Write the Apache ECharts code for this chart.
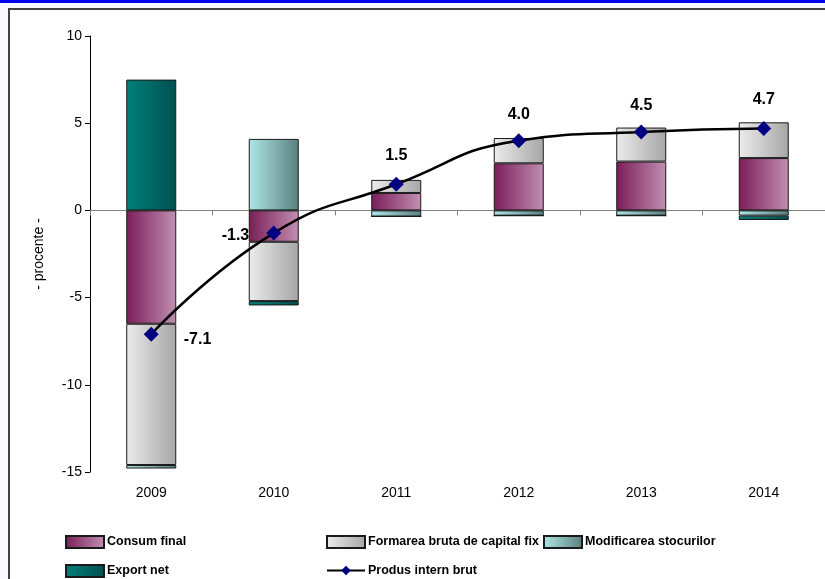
<!DOCTYPE html>
<html>
<head>
<meta charset="utf-8">
<script src="https://cdn.jsdelivr.net/npm/echarts@6/dist/echarts.min.js"></script>
<style>
  html, body { margin: 0; padding: 0; background: #fff; }
  #chart { width: 825px; height: 579px; }
</style>
</head>
<body>
<div id="chart"></div>
<script>
  // ani (categorii)
  var years = ['2009', '2010', '2011', '2012', '2013', '2014']
  // contributii la cresterea PIB (puncte procentuale)
  var consumFinal = [-6.5, -1.8, 1.0, 2.7, 2.8, 3.0]
  var formareaBruta = [-8.1, -3.4, 0.75, 1.45, 1.95, 2.05]
  var modifStocuri = [-0.2, 4.1, -0.35, -0.3, -0.3, -0.3]
  var exportNet = [7.5, -0.25, 0, 0, 0, -0.25]
  var pib = [-7.1, -1.3, 1.5, 4.0, 4.5, 4.7]

  var font = '"Liberation Sans", Arial, sans-serif'

  function grad(c1, c2) {
    return new echarts.graphic.LinearGradient(0, 0, 1, 0, [
      { offset: 0, color: c1 },
      { offset: 1, color: c2 }
    ])
  }

  // pozitii etichete PIB
  var labelPos = [
    { position: 'right', offset: [20, 5] },
    { position: 'left', offset: [-12, 3] },
    { position: 'top', offset: [0, -8] },
    { position: 'top', offset: [0, -6] },
    { position: 'top', offset: [0, -6] },
    { position: 'top', offset: [0, -8] }
  ]

  // o legenda pentru fiecare element, ca in original
  var legText = { fontFamily: font, fontWeight: 'bold', fontSize: 12.5, color: '#000', padding: [0, 0, 0, -2] }
  function leg(name, left, top, icon) {
    return {
      data: [{ name: name, icon: icon }], left: left, top: top,
      itemWidth: 38, itemHeight: 12, itemGap: 4,
      textStyle: legText
    }
  }

  var chart = echarts.init(document.getElementById('chart'))
  var option = {
    animation: false,
    textStyle: { fontFamily: font },
    graphic: [
      { type: 'rect', z: -10, shape: { x: 0, y: 0, width: 825, height: 579 }, style: { fill: '#f8f8ff' } },
      { type: 'rect', z: -9, shape: { x: 9, y: 9, width: 820, height: 575 }, style: { fill: '#fff', stroke: '#404040', lineWidth: 2 } },
      { type: 'rect', z: -8, shape: { x: 0, y: 0, width: 825, height: 3 }, style: { fill: '#0000f0' } }
    ],
    grid: { left: 90, top: 36, width: 738, height: 436 },
    legend: [
      leg('Consum final', 60, 530, 'rect'),
      leg('Formarea bruta de capital fix', 321, 530, 'rect'),
      leg('Modificarea stocurilor', 538, 530, 'rect'),
      leg('Export net', 60, 559, 'rect'),
      {
        data: ['Produs intern brut'], left: 321, top: 559,
        itemWidth: 38, itemHeight: 12, itemGap: 4,
        textStyle: legText
      }
    ],
    xAxis: [
      {
        type: 'category',
        data: years,
        axisLine: { onZero: true, lineStyle: { color: '#808080', width: 1 } },
        axisTick: { show: true, length: 5, lineStyle: { color: '#808080' } },
        axisLabel: { show: false }
      },
      {
        type: 'category',
        data: years,
        position: 'bottom',
        axisLine: { show: false },
        axisTick: { show: false },
        axisLabel: { color: '#000', fontSize: 14, margin: 14, fontFamily: font }
      }
    ],
    yAxis: {
      type: 'value',
      min: -15, max: 10, interval: 5,
      name: '- procente -',
      nameLocation: 'middle',
      nameGap: 44,
      nameTextStyle: { color: '#000', fontSize: 14, fontFamily: font },
      axisLine: { show: true, lineStyle: { color: '#000' } },
      axisTick: { show: true, length: 5, lineStyle: { color: '#000' } },
      axisLabel: { color: '#000', fontSize: 14, margin: 8, fontFamily: font },
      splitLine: { show: false }
    },
    series: [
      {
        name: 'Consum final', type: 'bar', stack: 'c', barWidth: 50,
        data: consumFinal,
        itemStyle: { color: grad('#7a1d58', '#c190b2'), borderColor: '#1a1a1a', borderWidth: 1 }
      },
      {
        name: 'Formarea bruta de capital fix', type: 'bar', stack: 'c', barWidth: 50,
        data: formareaBruta,
        itemStyle: { color: grad('#ececec', '#a6a6a6'), borderColor: '#1a1a1a', borderWidth: 1 }
      },
      {
        name: 'Modificarea stocurilor', type: 'bar', stack: 'c', barWidth: 50,
        data: modifStocuri,
        itemStyle: { color: grad('#aee8e8', '#5a807e'), borderColor: '#1a1a1a', borderWidth: 1 }
      },
      {
        name: 'Export net', type: 'bar', stack: 'c', barWidth: 50,
        data: exportNet,
        itemStyle: { color: grad('#00807a', '#005050'), borderColor: '#1a1a1a', borderWidth: 1 }
      },
      {
        name: 'Produs intern brut', type: 'line', smooth: true,
        symbol: 'diamond', symbolSize: 15,
        z: 5,
        data: pib.map(function (v, i) {
          return { value: v, label: labelPos[i] }
        }),
        lineStyle: { color: '#000', width: 2.5 },
        itemStyle: { color: '#000080' },
        label: {
          show: true, color: '#000', fontWeight: 'bold', fontSize: 16,
          fontFamily: font,
          formatter: function (p) { return p.value.toFixed(1) }
        }
      }
    ]
  }
  chart.setOption(option)
</script>
</body>
</html>
